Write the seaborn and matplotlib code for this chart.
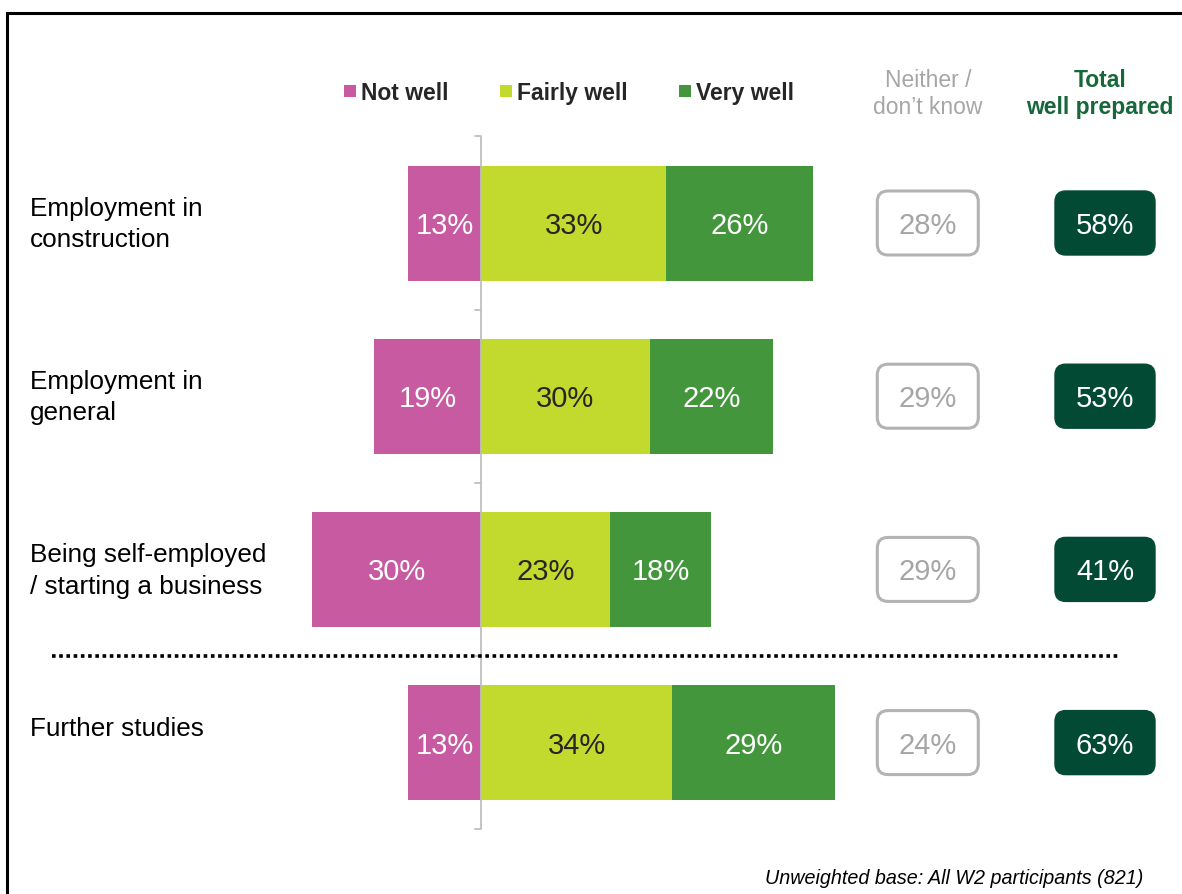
import matplotlib
matplotlib.use("Agg")
import matplotlib.pyplot as plt
import seaborn as sns
import pandas as pd
from matplotlib.patches import FancyBboxPatch, Rectangle

categories = ["Employment in\nconstruction", "Employment in\ngeneral",
              "Being self-employed\n/ starting a business", "Further studies"]
not_well = [13, 19, 30, 13]
fairly_well = [33, 30, 23, 34]
very_well = [26, 22, 18, 29]
neither = [28, 29, 29, 24]
total_well = [58, 53, 41, 63]
legend_labels = ["Not well", "Fairly well", "Very well"]
footnote = "Unweighted base: All W2 participants (821)"

C_NOT = "#c75aa0"
C_FAIR = "#c2d92e"
C_VERY = "#43963c"
C_DARK = "#034a34"
C_GREY = "#a6a6a6"
C_TXT = "#262626"

sns.set_theme(style="white")
plt.rcParams["font.family"] = ["Liberation Sans", "DejaVu Sans"]

W, H = 1182, 895
fig = plt.figure(figsize=(W / 100, H / 100), dpi=100)
ax = fig.add_axes([0, 0, 1, 1])

# pixel mapping helpers (layout only)
X0, PX = 481.0, 5.62
Y0, PY = 224.0, 173.2

df = pd.DataFrame({"cat": categories, "nw": not_well, "fw": fairly_well, "vw": very_well})
df["pos"] = df["fw"] + df["vw"]
df["neg"] = -df["nw"]

bw = 115 / PY
sns.barplot(data=df, x="pos", y="cat", orient="h", color=C_VERY, saturation=1,
            width=bw, ax=ax, edgecolor="none")
sns.barplot(data=df, x="fw", y="cat", orient="h", color=C_FAIR, saturation=1,
            width=bw, ax=ax, edgecolor="none")
sns.barplot(data=df, x="neg", y="cat", orient="h", color=C_NOT, saturation=1,
            width=bw, ax=ax, edgecolor="none")

ax.set_xlim(-X0 / PX, (W - X0) / PX)
ax.set_ylim((H - Y0) / PY, -Y0 / PY)
ax.axis("off")

vfs = 21
dy = 2 / PY
for i, cat in enumerate(categories):
    nw, fw, vw = not_well[i], fairly_well[i], very_well[i]
    ax.text(-nw / 2, i + dy, f"{nw}%", color="white", fontsize=vfs, ha="center", va="center")
    ax.text(fw / 2, i + dy, f"{fw}%", color=C_TXT, fontsize=vfs, ha="center", va="center")
    ax.text(fw + vw / 2, i + dy, f"{vw}%", color="white", fontsize=vfs, ha="center", va="center")
    # category label
    ax.text((30 - X0) / PX, i - 27 / PY, cat, fontsize=18.8, color="black",
            ha="left", va="top", linespacing=1.38)
    # neither box
    bxw, bxh = 101 / PX, 64 / PY
    cx = 79.5
    asp = PX / PY
    box = FancyBboxPatch((cx - bxw / 2, i - bxh / 2), bxw, bxh,
                         boxstyle="round,pad=0,rounding_size=1.9",
                         mutation_aspect=asp, facecolor="white",
                         edgecolor="#b3b3b3", linewidth=2.2)
    ax.add_patch(box)
    ax.text(cx, i + dy, f"{neither[i]}%", color=C_GREY, fontsize=vfs, ha="center", va="center")
    # total box
    tx = (1105 - X0) / PX
    box2 = FancyBboxPatch((tx - 100 / PX / 2, i - bxh / 2), 100 / PX, bxh,
                          boxstyle="round,pad=0,rounding_size=1.9",
                          mutation_aspect=asp, facecolor=C_DARK,
                          edgecolor=C_DARK, linewidth=1)
    ax.add_patch(box2)
    ax.text(tx, i + dy, f"{total_well[i]}%", color="white", fontsize=vfs, ha="center", va="center")

# axis line at zero with ticks
ax.plot([0, 0], [-0.5, 3.5], color="#bfbfbf", lw=1.3, solid_capstyle="butt")
for yb in [-0.5, 0.5, 1.5, 2.5, 3.5]:
    ax.plot([-6 / PX, 0], [yb, yb], color="#bfbfbf", lw=1.3)

# dotted divider
ax.plot([(52 - X0) / PX, (1118 - X0) / PX], [2.5, 2.5], color="black",
        lw=2.6, linestyle=(0, (1, 1)))

# legend
ly = (92 - Y0) / PY
sq = 12
for lab, col, sx in zip(legend_labels, [C_NOT, C_FAIR, C_VERY], [344, 500, 679]):
    ax.add_patch(Rectangle(((sx - X0) / PX, ly - sq / 2 / PY), sq / PX, sq / PY,
                           facecolor=col, edgecolor="none"))
    ax.text((sx + 17 - X0) / PX, ly + dy, lab, fontsize=16.5, fontweight="bold",
            color=C_TXT, ha="left", va="center")

ax.text((928 - X0) / PX, ly + dy, "Neither /\ndon\u2019t know", fontsize=16.5, color=C_GREY,
        ha="center", va="center", linespacing=1.18)
ax.text((1100 - X0) / PX, ly + dy, "Total\nwell prepared", fontsize=16.5, color="#17673a",
        fontweight="bold", ha="center", va="center", linespacing=1.18)

# footnote
fig.text(1143 / W, 1 - 879 / H, footnote, fontsize=14.2, style="italic",
         color="black", ha="right", va="center")

# frame
fig.add_artist(Rectangle((6.5 / W, -0.02), 1.1, 1 - 13.5 / H + 0.02,
                         transform=fig.transFigure, facecolor="none",
                         edgecolor="black", linewidth=2.2))

fig.savefig("out.png", dpi=100)
